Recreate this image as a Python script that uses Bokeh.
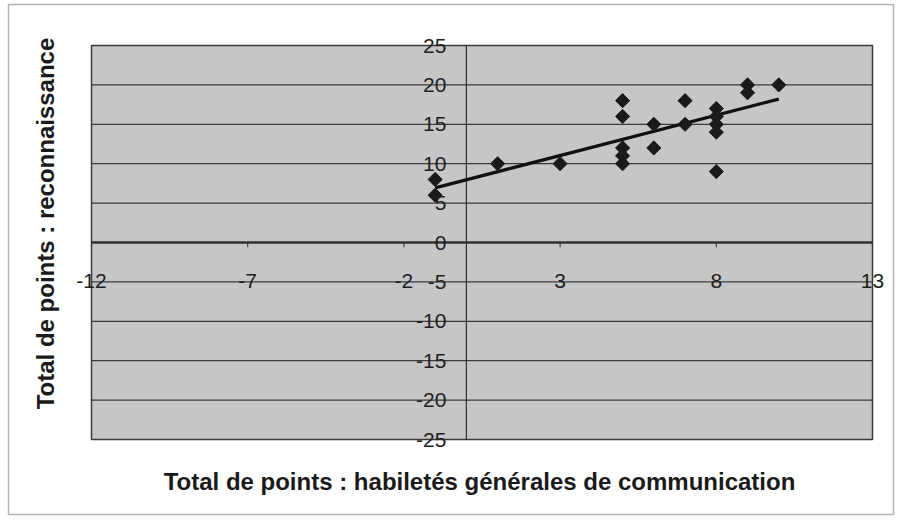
import numpy as np
from bokeh.plotting import figure
from bokeh.models import ColumnDataSource, Label, Range1d
from bokeh.core.properties import value
from bokeh.embed import file_html
from bokeh.resources import INLINE

# data
comm = [-1, -1, 1, 3, 5, 5, 5, 5, 5, 6, 6, 7, 7, 8, 8, 8, 8, 8, 9, 9, 10]
recon = [8, 6, 10, 10, 18, 16, 12, 11, 10, 15, 12, 18, 15, 17, 16, 15, 14, 9, 20, 19, 20]
x_ticks = [-12, -7, -2, 3, 8, 13]
y_ticks = [-25, -20, -15, -10, -5, 0, 5, 10, 15, 20, 25]
x_title = "Total de points : habiletés générales de communication"
y_title = "Total de points : reconnaissance"

FONT = "Liberation Sans"

# figure geometry (pixels) -> data ranges so that labels outside the gray area are drawn inside the frame
W, H = 896, 519
X0, X1 = -12, 13
Y0, Y1 = -25, 25
PX_L, PX_R, PX_T, PX_B = 91, 872, 45, 439
sx = (PX_R - PX_L) / (X1 - X0)
sy = (PX_B - PX_T) / (Y1 - Y0)
xr = Range1d(X0 - PX_L / sx, X1 + (W - PX_R) / sx)
yr = Range1d(Y0 - (H - PX_B) / sy, Y1 + PX_T / sy)

p = figure(width=W, height=H, output_backend="svg", toolbar_location=None,
           x_range=xr, y_range=yr, min_border=0)
p.xaxis.visible = False
p.yaxis.visible = False
p.xgrid.visible = False
p.ygrid.visible = False
p.background_fill_color = "white"
p.border_fill_color = "white"
p.outline_line_color = None

def px2x(px):
    return xr.start + px / sx

def py2y(py):
    return yr.end - py / sy

# outer chart border
p.quad(left=[px2x(8)], right=[px2x(893)], top=[py2y(4)], bottom=[py2y(514)],
       fill_color=None, line_color="#b4b4b4", line_width=1.5)

# gray plot area
p.quad(left=[X0], right=[X1], bottom=[Y0], top=[Y1], fill_color="#c6c6c6",
       line_color="#3a3a3a", line_width=1.5)

# horizontal gridlines
p.segment(x0=[X0] * len(y_ticks), x1=[X1] * len(y_ticks), y0=y_ticks, y1=y_ticks,
          line_color="#3a3a3a", line_width=1.2)
# axes crossing at origin
p.segment(x0=[X0], x1=[X1], y0=[0], y1=[0], line_color="#303030", line_width=2.5)
p.segment(x0=[0], x1=[0], y0=[Y0], y1=[Y1], line_color="#303030", line_width=1.2)
# x tick marks
p.segment(x0=x_ticks, x1=x_ticks, y0=[0] * len(x_ticks), y1=[-0.6] * len(x_ticks),
          line_color="#303030", line_width=1)

# tick labels
p.text(x=x_ticks, y=[0] * len(x_ticks), text=[str(t) for t in x_ticks],
       y_offset=38, text_align="center", text_baseline="middle",
       text_font=value(FONT), text_font_size="21px", text_color="#1e1e1e")
p.text(x=[0] * len(y_ticks), y=y_ticks, text=[str(t) for t in y_ticks],
       x_offset=-20, text_align="right", text_baseline="middle",
       text_font=value(FONT), text_font_size="21px", text_color="#1e1e1e")

# trend line (least squares from the data)
slope, intercept = np.polyfit(comm, recon, 1)
xl = [min(comm), max(comm)]
p.line(x=xl, y=[slope * v + intercept for v in xl], line_color="#111111", line_width=3.2)

# points
src = ColumnDataSource(dict(x=comm, y=recon))
p.scatter("x", "y", source=src, marker="square", angle=np.pi / 4, size=10,
          fill_color="#1a1a1a", line_color="#1a1a1a")

# axis titles
p.add_layout(Label(x=px2x(479), y=py2y(481), text=x_title, text_align="center",
                   text_baseline="middle", text_font=FONT, text_font_size="24px",
                   text_font_style="bold", text_color="#1a1a1a"))
p.add_layout(Label(x=px2x(45), y=py2y(223), text=y_title, angle=np.pi / 2,
                   text_align="center", text_baseline="middle", text_font=FONT,
                   text_font_size="24px", text_font_style="bold", text_color="#1a1a1a"))

open("out.html", "w").write(file_html(p, INLINE))
